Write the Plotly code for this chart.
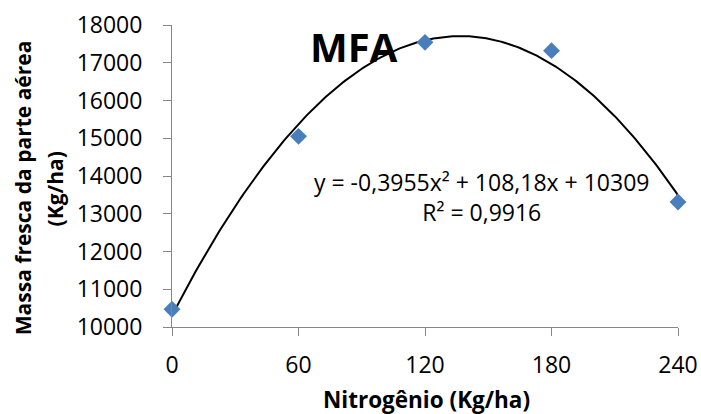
import numpy as np
import plotly.graph_objects as go

# Data
nitrogen = [0, 60, 120, 180, 240]
mass = [10470, 15050, 17540, 17320, 13310]
# Trendline coefficients shown in the chart (a*x^2 + b*x + c)
trend_coef = [-0.3955, 108.18, 10309]
r2 = "0,9916"
x_ticks = [0, 60, 120, 180, 240]
y_ticks = list(range(10000, 18001, 1000))

FONT = "Open Sans"

xs = np.linspace(min(nitrogen), max(nitrogen), 241)
ys = np.polyval(trend_coef, xs)

fig = go.Figure()
fig.add_trace(go.Scatter(
    x=xs, y=ys, mode="lines",
    line=dict(color="black", width=2),
    cliponaxis=False, hoverinfo="skip", showlegend=False,
))
fig.add_trace(go.Scatter(
    x=nitrogen, y=mass, mode="markers",
    marker=dict(symbol="diamond", size=13, color="#4A7EBB"),
    cliponaxis=False, showlegend=False,
))

axis_common = dict(
    showline=True, linecolor="#868686", linewidth=1,
    ticks="outside", ticklen=8, tickcolor="#868686", tickwidth=1,
    showgrid=False, zeroline=False, ticklabeloverflow="allow",
    tickfont=dict(family=FONT, size=23, color="black"),
)

fig.update_xaxes(range=[0, 240], tickvals=x_ticks,
                 ticktext=[str(v) for v in x_ticks],
                 ticklabelstandoff=9, automargin=False, **axis_common)
fig.update_yaxes(range=[10000, 18000], tickvals=y_ticks,
                 ticktext=[str(v) for v in y_ticks],
                 ticklabelstandoff=16, automargin=False, **axis_common)

eq = "y = -0,3955x² + 108,18x + 10309"
fig.add_annotation(text=eq + "<br>R² = " + r2, x=0.612, y=0.431,
                   xref="paper", yref="paper", showarrow=False,
                   xanchor="center", yanchor="middle",
                   font=dict(family=FONT, size=23, color="black"))
fig.add_annotation(text="<b>MFA</b>", x=0.268, y=0.928,
                   xref="paper", yref="paper", showarrow=False,
                   xanchor="left", yanchor="middle",
                   font=dict(family=FONT, size=40, color="black"))
fig.add_annotation(text="<b>Massa fresca da parte aérea</b>",
                   x=-0.293, y=0.462, xref="paper", yref="paper",
                   showarrow=False, textangle=-90,
                   xanchor="center", yanchor="middle",
                   font=dict(family=FONT, size=21, color="black"))
fig.add_annotation(text="<b>(Kg/ha)</b>",
                   x=-0.231, y=0.456, xref="paper", yref="paper",
                   showarrow=False, textangle=-90,
                   xanchor="center", yanchor="middle",
                   font=dict(family=FONT, size=21, color="black"))
fig.add_annotation(text="<b>Nitrogênio (Kg/ha)</b>",
                   x=0.502, y=-0.24, xref="paper", yref="paper",
                   showarrow=False, xanchor="center", yanchor="middle",
                   font=dict(family=FONT, size=22.5, color="black"))

fig.update_layout(
    width=701, height=414,
    margin=dict(l=172, r=23, t=25, b=87),
    paper_bgcolor="white", plot_bgcolor="white",
    font=dict(family=FONT),
)

# remove the default page margin so the figure fills the window exactly
fig.write_html(
    "out.html",
    config={"displayModeBar": False, "staticPlot": True},
    post_script="document.body.style.margin='0';"
                "document.body.style.overflow='hidden';",
)
